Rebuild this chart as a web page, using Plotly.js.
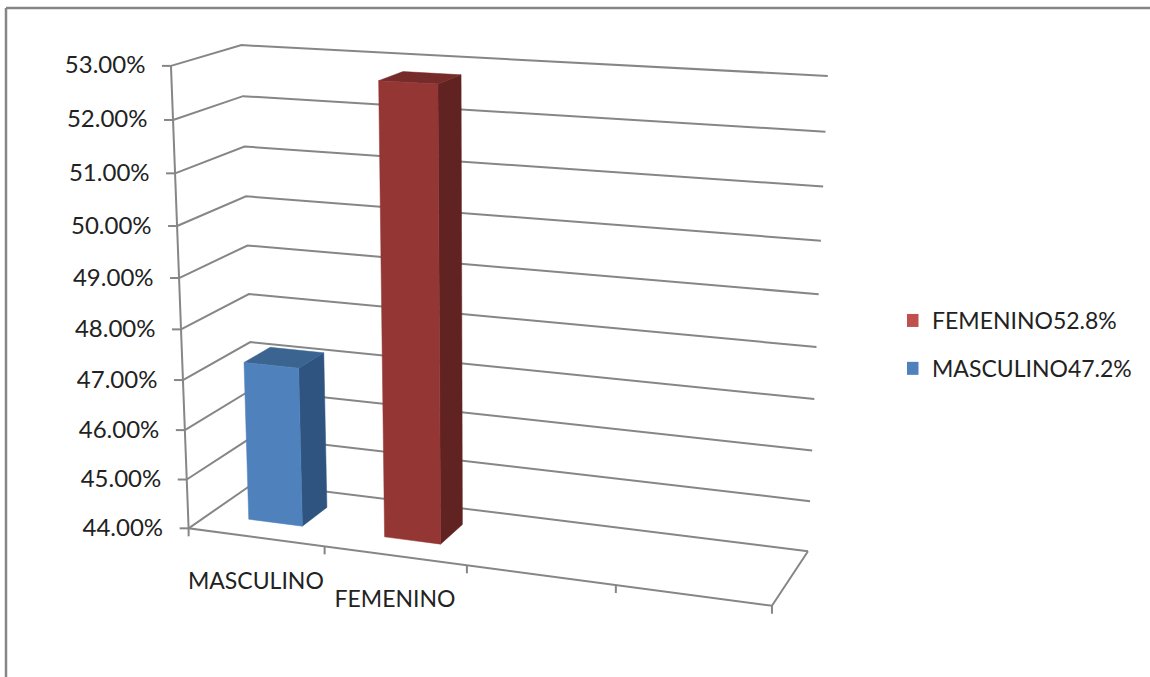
<!DOCTYPE html>
<html><head><meta charset="utf-8">
<script src="https://cdn.plot.ly/plotly-3.0.1.min.js"></script>
<style>html,body{margin:0;padding:0;background:#fff}#c{width:1150px;height:677px}</style></head>
<body><div id="c"></div>
<script>
// --- data ---
const categories = ['MASCULINO', 'FEMENINO'];
const values = [47.2, 52.8];
const legendNames = ['MASCULINO47.2%', 'FEMENINO52.8%'];
const valueTicks = [44, 45, 46, 47, 48, 49, 50, 51, 52, 53];
const slotCount = 4;
// --- style ---
const frontColors = ['#4F81BD', '#943634'];
const topColors = ['#3B6491', '#752B29'];
const sideColors = ['#2F5480', '#612321'];
const swatchColors = ['#4F81BD', '#C0504D'];
const gridColor = '#868686';
const textColor = '#222222';
const fontFamily = 'Lato, Carlito, sans-serif';
const barInsetU = 0.30, barInsetV = 0.30;

// Perspective of the 3-D box: solved from where its corners sit on the page.
const calib = [
  [0,0,0,189,528],[0,0,1,170.5,66],[1,0,0,772,606],[0,1,0,254,483],
  [0,1,1,242,45],[1,1,0,808,551],[1,1,1,827.7,76]
];
function solve(A,b){
  const n=b.length,M=A.map((r,i)=>[...r,b[i]]);
  for(let i=0;i<n;i++){
    let p=i;for(let k=i+1;k<n;k++)if(Math.abs(M[k][i])>Math.abs(M[p][i]))p=k;
    [M[i],M[p]]=[M[p],M[i]];
    for(let k=0;k<n;k++){if(k===i)continue;const f=M[k][i]/M[i][i];for(let j=i;j<=n;j++)M[k][j]-=f*M[i][j];}
  }
  return M.map((r,i)=>r[n]/r[i]);
}
const rows=[],rhs=[];
calib.forEach(([u,v,w,X,Y])=>{
  rows.push([u,v,w,1,0,0,0,0,-X*u,-X*v,-X*w]);rhs.push(X);
  rows.push([0,0,0,0,u,v,w,1,-Y*u,-Y*v,-Y*w]);rhs.push(Y);
});
const AtA=Array.from({length:11},(_,i)=>Array.from({length:11},(_,j)=>rows.reduce((s,r)=>s+r[i]*r[j],0)));
const Atb=Array.from({length:11},(_,i)=>rows.reduce((s,r,k)=>s+r[i]*rhs[k],0));
const P=solve(AtA,Atb);
const vMin=valueTicks[0],vMax=valueTicks[valueTicks.length-1];
function project(u,v,val){
  const w=(val-vMin)/(vMax-vMin);
  const d=P[8]*u+P[9]*v+P[10]*w+1;
  return [(P[0]*u+P[1]*v+P[2]*w+P[3])/d,(P[4]*u+P[5]*v+P[6]*w+P[7])/d];
}
function polyline(pts){return {x:pts.map(p=>p?p[0]:null),y:pts.map(p=>p?p[1]:null)};}
function lineTrace(pts,width){
  return Object.assign(polyline(pts),{type:'scatter',mode:'lines',hoverinfo:'skip',showlegend:false,
    line:{color:gridColor,width:width||2}});
}
function faceTrace(pts,color){
  const c=polyline(pts.concat([pts[0]]));
  return Object.assign(c,{type:'scatter',mode:'lines',fill:'toself',fillcolor:color,hoverinfo:'skip',
    showlegend:false,line:{color:color,width:0.5}});
}
const traces=[];
// walls: gridlines
const grid=[];
valueTicks.forEach(t=>{grid.push(project(0,0,t),project(0,1,t),project(1,1,t),null);});
traces.push(lineTrace(grid));
// bars
categories.forEach((cat,i)=>{
  const u0=(i+barInsetU)/slotCount,u1=(i+1-barInsetU)/slotCount,v0=barInsetV,v1=1-barInsetV,h=values[i];
  traces.push(faceTrace([project(u1,v0,vMin),project(u1,v1,vMin),project(u1,v1,h),project(u1,v0,h)],sideColors[i]));
  traces.push(faceTrace([project(u0,v0,h),project(u1,v0,h),project(u1,v1,h),project(u0,v1,h)],topColors[i]));
  traces.push(faceTrace([project(u0,v0,vMin),project(u1,v0,vMin),project(u1,v0,h),project(u0,v0,h)],frontColors[i]));
});
// axes
const axisPts=[project(0,0,vMax),project(0,0,vMin),project(1,0,vMin),project(1,1,vMin),null];
valueTicks.forEach(t=>{const p=project(0,0,t);axisPts.push([p[0]-9,p[1]],p,null);});
for(let s=0;s<=slotCount;s++){const p=project(s/slotCount,0,vMin);axisPts.push(p,[p[0],p[1]+8],null);}
traces.push(lineTrace(axisPts));
// value labels
const yl=valueTicks.map(t=>project(0,0,t));
traces.push({type:'scatter',mode:'text',x:yl.map(p=>p[0]-25.5),y:yl.map(p=>p[1]+1.5),
  text:valueTicks.map(t=>t.toFixed(2)+'%'),textposition:'middle left',hoverinfo:'skip',showlegend:false,
  textfont:{family:fontFamily,size:24,color:textColor}});
// category labels
const cl=categories.map((c,i)=>project((i+0.5)/slotCount,0,vMin));
traces.push({type:'scatter',mode:'text',x:cl.map(p=>p[0]),y:cl.map(p=>p[1]+45.5),text:categories,
  textposition:'middle center',hoverinfo:'skip',showlegend:false,
  textfont:{family:fontFamily,size:23,color:textColor}});
// legend entries (reverse order as in reference)
[1,0].forEach(i=>traces.push({type:'scatter',mode:'markers',x:[null],y:[null],name:legendNames[i],
  legendgroup:'g'+i,showlegend:true,marker:{symbol:'square',size:13,color:swatchColors[i]}}));

const layout={
  width:1150,height:677,margin:{l:0,r:0,t:0,b:0},paper_bgcolor:'#fff',plot_bgcolor:'#fff',
  xaxis:{range:[0,1150],visible:false,fixedrange:true},
  yaxis:{range:[677,0],visible:false,fixedrange:true},
  legend:{x:907/1150,y:1-299/677,xanchor:'left',yanchor:'top',traceorder:'grouped',tracegroupgap:15,
    itemwidth:30,indentation:-15,bgcolor:'rgba(0,0,0,0)',font:{family:fontFamily,size:23,color:textColor}},
  shapes:[
    {type:'line',xref:'paper',yref:'paper',x0:6/1150,x1:6/1150,y0:0,y1:1-8/677,line:{color:gridColor,width:2.5}},
    {type:'line',xref:'paper',yref:'paper',x0:6/1150,x1:1,y0:1-8/677,y1:1-8/677,line:{color:gridColor,width:2.5}}
  ]
};
Plotly.newPlot('c',traces,layout,{staticPlot:true,displayModeBar:false});
</script></body></html>
